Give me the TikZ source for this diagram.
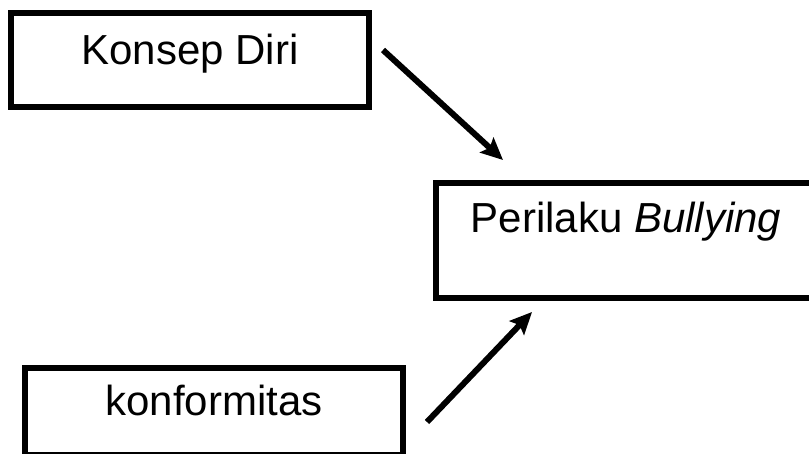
\documentclass[tikz,border=0pt]{standalone}
\usepackage{fontspec}
\setmainfont{Liberation Sans}
\usetikzlibrary{arrows.meta}

\begin{document}
\begin{tikzpicture}[
        x=1pt, y=-1pt,
        kotak/.style={
                rectangle, draw, line width=6pt,
                inner sep=0pt, outer sep=0pt,
                font=\fontsize{42}{50}\selectfont % teks besar seperti di gambar
            },
        panah/.style={
                -{Stealth[length=22pt, width=20pt, inset=4pt]},
                line width=6pt
            }
    ]
    \clip (0,0) rectangle (809,454);
    \node[kotak, minimum width=358pt, text height=52pt, text depth=42pt] (konsep) at (190,60) {Konsep Diri};
    \node[kotak, minimum width=380pt, text height=50pt, text depth=65pt] (perilaku) at (626,240.5) {Perilaku \textit{Bullying}};
    \node[kotak, minimum width=378pt, text height=46.5pt, text depth=40pt] (konformitas) at (214,411.75) {konformitas};
    \coordinate (k1) at (383,50);
    \coordinate (p1) at (503,160);
    \coordinate (k2) at (427,422);
    \coordinate (p2) at (532,312);
    \draw[panah] (k1) -- (p1);
    \draw[panah] (k2) -- (p2);
\end{tikzpicture}
\end{document}
